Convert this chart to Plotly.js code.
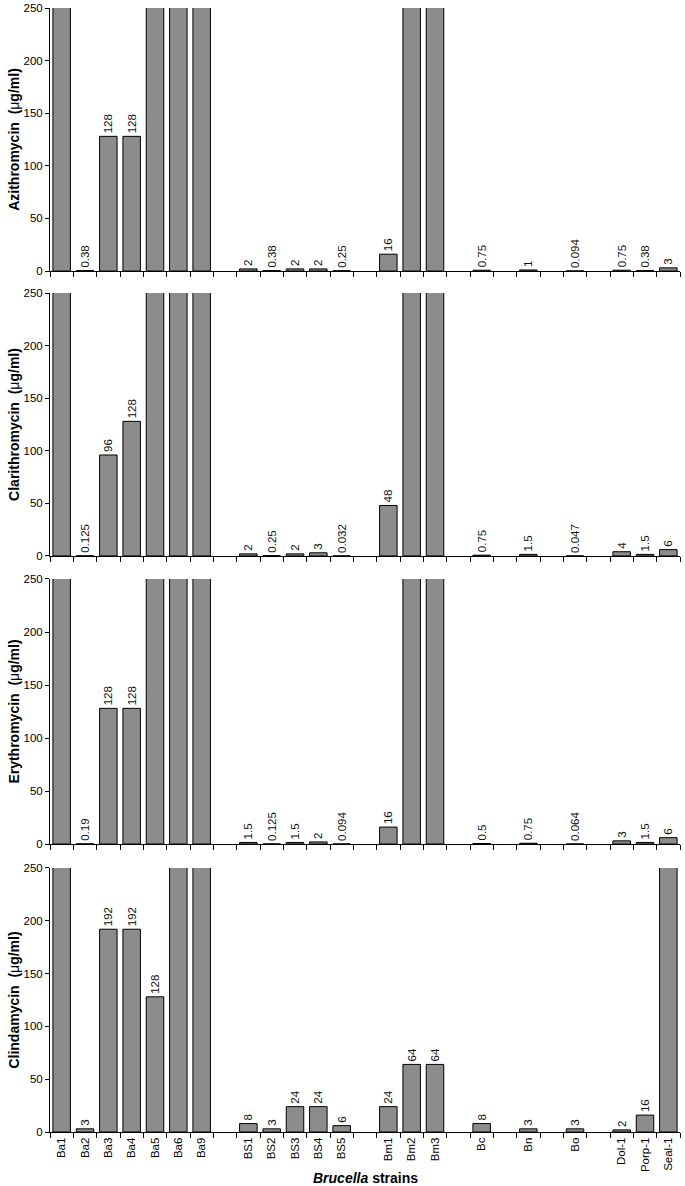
<!DOCTYPE html>
<html>
<head>
<meta charset="utf-8">
<script src="https://cdn.plot.ly/plotly-3.0.1.min.js"></script>
<style>html,body{margin:0;padding:0;background:#fff;}#chart{width:685px;height:1186px;}</style>
</head>
<body>
<div id="chart"></div>
<script>
// Categories (blank entries are spacer slots between strain groups)
var strains = ["Ba1","Ba2","Ba3","Ba4","Ba5","Ba6","Ba9"," ",
  "BS1","BS2","BS3","BS4","BS5","  ",
  "Bm1","Bm2","Bm3","   ",
  "Bc","    ","Bn","     ","Bo","      ",
  "Dol-1","Porp-1","Seal-1"];

// MIC values (µg/ml); 256 = off-scale (>250), null = spacer
var azithromycin = [256,0.38,128,128,256,256,256,null,
  2,0.38,2,2,0.25,null,
  16,256,256,null,
  0.75,null,1,null,0.094,null,
  0.75,0.38,3];
var clarithromycin = [256,0.125,96,128,256,256,256,null,
  2,0.25,2,3,0.032,null,
  48,256,256,null,
  0.75,null,1.5,null,0.047,null,
  4,1.5,6];
var erythromycin = [256,0.19,128,128,256,256,256,null,
  1.5,0.125,1.5,2,0.094,null,
  16,256,256,null,
  0.5,null,0.75,null,0.064,null,
  3,1.5,6];
var clindamycin = [256,3,192,192,128,256,256,null,
  8,3,24,24,6,null,
  24,64,64,null,
  8,null,3,null,3,null,
  2,16,256];

var drugNames = ["Azithromycin","Clarithromycin","Erythromycin","Clindamycin"];
var series = [azithromycin, clarithromycin, erythromycin, clindamycin];
var xTitle = "<b><i>Brucella</i> strains</b>";

var FONT = "Arial, 'Liberation Sans', Helvetica, sans-serif";
var domains = [[0.766,1.0],[0.5125,0.7464],[0.2562,0.492],[0,0.2349]];

var traces = [];
var layout = {
  width: 685, height: 1186,
  margin: {l:50, r:5, t:8, b:54},
  paper_bgcolor: "#fff", plot_bgcolor: "#fff",
  showlegend: false,
  bargap: 0.25,
  font: {family: FONT, color: "#000", size: 11},
  annotations: []
};

series.forEach(function(vals, i){
  var n = i === 0 ? "" : String(i+1);
  traces.push({
    type: "bar",
    x: strains,
    y: vals,
    xaxis: "x" + n,
    yaxis: "y" + n,
    marker: {color: "#8c8c8c", line: {color: "#000", width: 1}},
    text: vals.map(function(v){ return (v === null || v > 250) ? "" : String(v); }),
    textposition: "outside",
    textangle: -90,
    constraintext: "none",
    cliponaxis: true,
    textfont: {family: FONT, size: 11.5, color: "#111"},
    hoverinfo: "x+y"
  });
  layout["xaxis" + n] = {
    anchor: "y" + n,
    type: "category",
    categoryorder: "array",
    categoryarray: strains,
    range: [-0.5, strains.length - 0.5],
    showline: true, linecolor: "#000", linewidth: 1,
    ticks: "outside", ticklen: 5, tickcolor: "#000", tickwidth: 1,
    tickson: "boundaries",
    showgrid: false, zeroline: false,
    showticklabels: i === 3,
    tickangle: -90,
    tickfont: {family: FONT, size: 11.5, color: "#000"},
    fixedrange: true
  };
  layout["yaxis" + n] = {
    anchor: "x" + n,
    domain: domains[i],
    range: [0, 250],
    tickvals: [0,50,100,150,200,250],
    showline: true, linecolor: "#000", linewidth: 1,
    ticks: "outside", ticklen: 4, tickcolor: "#000", tickwidth: 1,
    showgrid: false, zeroline: false,
    tickfont: {family: FONT, size: 11.5, color: "#000"},
    title: {text: "<b>" + drugNames[i] + "  (</b>μ<b>g/ml)</b>", font: {family: FONT, size: 14, color: "#000"}, standoff: 0},
    fixedrange: true
  };
});

layout.annotations.push({
  text: xTitle, xref: "paper", yref: "paper", x: 0.5, y: -0.0409,
  xanchor: "center", yanchor: "middle", showarrow: false,
  font: {family: FONT, size: 14, color: "#000"}
});

Plotly.newPlot("chart", traces, layout, {staticPlot: true, displayModeBar: false});
</script>
</body>
</html>
